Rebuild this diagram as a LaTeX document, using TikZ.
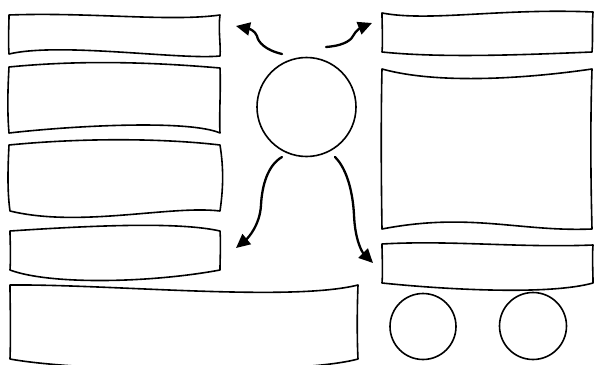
\documentclass[tikz,border=0pt]{standalone}
\usetikzlibrary{arrows.meta}
\begin{document}
\begin{tikzpicture}[x=1pt,y=-1pt,
  sketch/.style={draw=black,line width=1.6pt,line join=round,fill=white},
  arr/.style={draw=black,line width=2.3pt,line cap=round,-{Triangle[length=14pt,width=13pt]}},
  ring/.style={circle,draw=black,line width=1.6pt,inner sep=0pt}]
\path[use as bounding box] (0,0) rectangle (594,364);
\clip (0,0) rectangle (594,364);
% left column
\path[sketch] (9,15) .. controls (90,12) and (170,22) .. (220,15)
  .. controls (218,30) and (221,45) .. (220,56)
  .. controls (180,60) and (60,42) .. (9,54)
  .. controls (8,40) and (9,25) .. cycle;
\path[sketch] (9,67) .. controls (80,60) and (150,62) .. (220,68)
  .. controls (221,90) and (219,115) .. (220,133)
  .. controls (190,120) and (80,125) .. (9,133)
  .. controls (7,110) and (8,85) .. cycle;
\path[sketch] (9,145) .. controls (80,138) and (160,138) .. (220,145)
  .. controls (224,170) and (223,190) .. (220,211)
  .. controls (170,205) and (80,228) .. (10,211)
  .. controls (7,190) and (8,165) .. cycle;
\path[sketch] (10,231) .. controls (100,225) and (180,222) .. (220,231)
  .. controls (221,245) and (220,258) .. (220,270)
  .. controls (150,283) and (50,285) .. (10,270)
  .. controls (11,255) and (10,240) .. cycle;
\path[sketch] (10,285) .. controls (110,284) and (290,302) .. (358,285)
  .. controls (357,310) and (357,340) .. (358,359)
  .. controls (300,375) and (80,372) .. (10,359)
  .. controls (11,330) and (10,300) .. cycle;
% right column
\path[sketch] (382,13) .. controls (430,22) and (500,8) .. (593,12)
  .. controls (592,25) and (593,40) .. (592,52)
  .. controls (520,55) and (440,58) .. (382,52)
  .. controls (383,40) and (382,25) .. cycle;
\path[sketch] (382,69) .. controls (440,85) and (530,78) .. (592,69)
  .. controls (590,130) and (591,190) .. (592,229)
  .. controls (520,232) and (470,212) .. (382,229)
  .. controls (381,170) and (381,110) .. cycle;
\path[sketch] (382,244) .. controls (450,240) and (520,248) .. (593,245)
  .. controls (592,258) and (593,270) .. (593,283)
  .. controls (550,295) and (450,290) .. (382,283)
  .. controls (383,270) and (382,255) .. cycle;
% circles
\node[ring,minimum size=99pt] (hub) at (306.5,107) {};
\node[ring,minimum size=66pt] (c1) at (423,326.5) {};
\node[ring,minimum size=67pt] (c2) at (533,326) {};
% arrows
\coordinate (ulS) at (282,54);  \coordinate (ulE) at (236,26);
\coordinate (urS) at (326,47);  \coordinate (urE) at (372,23);
\coordinate (dlS) at (282,157); \coordinate (dlE) at (236,248);
\coordinate (drS) at (335,157); \coordinate (drE) at (373,263);
\draw[arr] (ulS) .. controls (265,50) and (258,42) .. (257,36) .. controls (255,31) and (250,29) .. (ulE);
\draw[arr] (urS) .. controls (340,46) and (350,42) .. (353,36) .. controls (356,30) and (362,27) .. (urE);
\draw[arr] (dlS) .. controls (268,165) and (262,185) .. (261,205) .. controls (260,225) and (248,238) .. (dlE);
\draw[arr] (drS) .. controls (348,170) and (353,195) .. (354,215) .. controls (355,240) and (362,252) .. (drE);
\end{tikzpicture}
\end{document}
